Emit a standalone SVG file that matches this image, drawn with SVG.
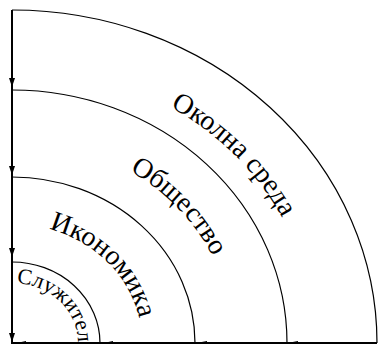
<svg xmlns="http://www.w3.org/2000/svg" width="378" height="345" viewBox="0 0 378 345">
<style>
.arc{fill:none;stroke:#000;stroke-width:1.2}
.axis{fill:none;stroke:#000;stroke-width:2}
.lbl{font-family:"Liberation Serif","Times New Roman",serif;fill:#000}
.ah{fill:#000}
</style>
<defs>
<path id="p1" d="M170.3,106.8 A303,277 0 0,1 315,343"/>
<path id="p2" d="M129.6,170.9 A222,203 0 0,1 234,343"/>
<path id="p3" d="M49,228.9 A130,119 0 0,1 142,343"/>
<path id="p4" d="M16.6,283.1 A66,60 0 0,1 78,343"/>
</defs>
<rect width="378" height="345" fill="#fff"/>
<g id="rings">
<path class="arc" d="M12,10 A365,333 0 0,1 377,343"/>
<path class="arc" d="M12,90 A275,253 0 0,1 287,343"/>
<path class="arc" d="M12,177 A183,166 0 0,1 195,343"/>
<path class="arc" d="M12,262 A88,81 0 0,1 100,343"/>
</g>
<g id="connectors">
<path class="axis" d="M12,10 V343 H377"/>
<polygon class="ah" points="9,78 15,78 12,87"/>
<polygon class="ah" points="9,166 15,166 12,175"/>
<polygon class="ah" points="9,248 15,248 12,257"/>
<polygon class="ah" points="9,333 15,333 12,342"/>
<polygon class="ah" points="19,342.5 26,341 26,342.5"/>
<polygon class="ah" points="106,342.5 113,341 113,342.5"/>
<polygon class="ah" points="199,342.5 207,341 207,342.5"/>
<polygon class="ah" points="290,342.5 298,341 298,342.5"/>
</g>
<g id="labels">
<text class="lbl" font-size="28"><textPath href="#p1">Околна среда</textPath></text>
<text class="lbl" font-size="28"><textPath href="#p2">Общество</textPath></text>
<text class="lbl" font-size="28"><textPath href="#p3">Икономика</textPath></text>
<text class="lbl" font-size="22"><textPath href="#p4">Служител</textPath></text>
</g>
</svg>
